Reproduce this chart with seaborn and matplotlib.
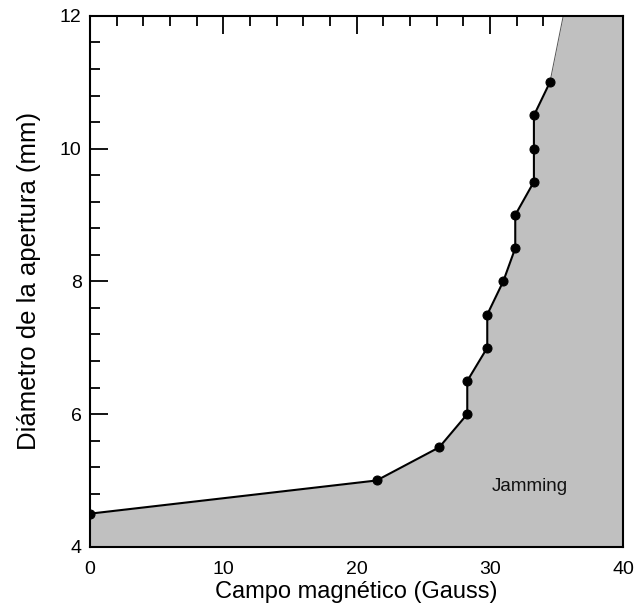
import numpy as np
import pandas as pd
import matplotlib
matplotlib.use("Agg")
import matplotlib.pyplot as plt
from matplotlib.ticker import MultipleLocator
import seaborn as sns

# Measured jamming boundary: magnetic field vs aperture diameter
campo = [0.0, 21.5, 26.2, 28.3, 28.3, 29.8, 29.8, 31.0, 31.9, 31.9, 33.3, 33.3, 33.3, 34.5]
diametro = [4.5, 5.0, 5.5, 6.0, 6.5, 7.0, 7.5, 8.0, 8.5, 9.0, 9.5, 10.0, 10.5, 11.0]

# Extrapolated continuation of the boundary to the top of the plot
ext_campo = [34.5, 35.5]
ext_diametro = [11.0, 12.0]

x_lim = (0, 40)
y_lim = (4, 12)

df = pd.DataFrame({"campo": campo, "diametro": diametro})

sns.set_theme(style="white")
plt.rcParams["font.family"] = ["Liberation Sans", "DejaVu Sans"]

fig = plt.figure(figsize=(6.34, 6.11), dpi=100)
ax = fig.add_axes([0.142, 0.105, 0.841, 0.869])

# Jamming region: everything to the right of the boundary
bx = np.array(campo + ext_campo[1:])
by = np.array(diametro + ext_diametro[1:])
ax.fill_betweenx(by, bx, x_lim[1], color="#c0c0c0", linewidth=0, zorder=1)
ax.fill_between([x_lim[0], x_lim[1]], y_lim[0], by[0], color="#c0c0c0", linewidth=0, zorder=1)

ax.plot(ext_campo, ext_diametro, color="#555555", linewidth=0.7, zorder=2)
sns.lineplot(data=df, x="campo", y="diametro", sort=False, estimator=None,
             color="black", linewidth=1.5, marker="o", markersize=6.5,
             markeredgecolor="black", ax=ax, zorder=3)

ax.text(30.1, 4.84, "Jamming", fontsize=13.5, color="#111111", va="baseline", zorder=4)

ax.set_xlim(*x_lim)
ax.set_ylim(*y_lim)
ax.xaxis.set_major_locator(MultipleLocator(10))
ax.xaxis.set_minor_locator(MultipleLocator(2))
ax.yaxis.set_major_locator(MultipleLocator(2))
ax.yaxis.set_minor_locator(MultipleLocator(0.4))
ax.tick_params(which="both", direction="in", top=True, right=True, bottom=True, left=True,
               color="black", labelsize=14, labelcolor="black")
ax.tick_params(which="major", length=13, width=1.3)
ax.tick_params(which="minor", length=7, width=1.3)
ax.tick_params(axis="x", which="major", pad=10)
ax.tick_params(axis="y", which="major", pad=6)
for s in ax.spines.values():
    s.set_color("black")
    s.set_linewidth(1.5)

ax.set_xlabel("Campo magnético (Gauss)", fontsize=17, color="black", labelpad=2)
ax.set_ylabel("Diámetro de la apertura (mm)", fontsize=18.5, color="black", labelpad=14)

fig.savefig("out.png", dpi=100)
